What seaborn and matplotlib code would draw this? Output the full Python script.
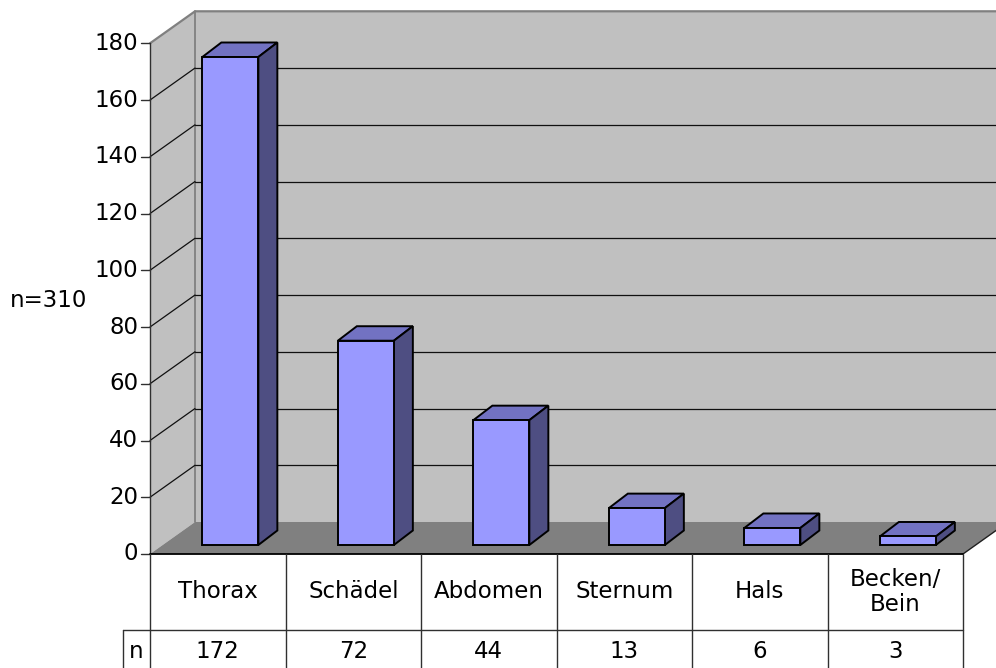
import matplotlib
matplotlib.use("Agg")
import matplotlib.pyplot as plt
from matplotlib.patches import Polygon
from matplotlib.transforms import Affine2D
import seaborn as sns

# Injury localisation counts
categories = ["Thorax", "Schädel", "Abdomen", "Sternum", "Hals", "Becken/\nBein"]
counts = [172, 72, 44, 13, 6, 3]
y_ticks = [0, 20, 40, 60, 80, 100, 120, 140, 160, 180]
y_label = "n=310"
row_label = "n"

sns.set_theme(style="white")
plt.rcParams["font.family"] = ["DejaVu Sans"]
FS = 16.5

W, H = 996, 668
fig = plt.figure(figsize=(W / 100, H / 100), dpi=100)
ax = fig.add_axes([0, 0, 1, 1])

# pixel geometry of the plotting box
PX0, PX1 = 150, 963          # front left / right edge
PY0, PY180 = 554, 43.3       # value 0 / 180 on the front plane
cat_px = (PX1 - PX0) / len(categories)
val_px = (PY0 - PY180) / 180.0


def X(px):
    return -0.5 + (px - PX0) / cat_px


def V(py):
    return (PY0 - py) / val_px


# 3-D depth of the walls and bars (pixels -> data units)
Dx, Dy = 45 / cat_px, 32 / val_px
bar_sx, bar_sy = 12.6 / cat_px, 9 / val_px      # front face offset
bar_dx, bar_dy = 19 / cat_px, 14.5 / val_px     # bar depth

FRONT = "#9999FF"
TOP = "#7272C2"
SIDE = "#4E4E82"
WALL = "#C0C0C0"
FLOOR = "#808080"
EDGE = "#808080"

sns.barplot(x=categories, y=counts, ax=ax, width=56 / cat_px, color=FRONT,
            saturation=1, edgecolor="black", linewidth=1.4, zorder=5)
bars = list(ax.patches)

xl, xr = -0.5, len(categories) - 0.5
top = y_ticks[-1]

# walls and floor
ax.add_patch(Polygon([(xl + Dx, Dy), (xr + Dx + 1, Dy), (xr + Dx + 1, top + Dy),
                      (xl + Dx, top + Dy)], closed=True, facecolor=WALL,
                     edgecolor="none", zorder=1))
ax.add_patch(Polygon([(xl, 0), (xl, top), (xl + Dx, top + Dy), (xl + Dx, Dy)],
                     closed=True, facecolor=WALL, edgecolor="none", zorder=1))
ax.add_patch(Polygon([(xl, 0), (xr, 0), (xr + Dx, Dy), (xl + Dx, Dy)], closed=True,
                     facecolor=FLOOR, edgecolor="none", zorder=1))
# wall outline
ax.plot([xl, xl + Dx, xr + Dx + 1], [top, top + Dy, top + Dy], color=EDGE, lw=1.6, zorder=2)
ax.plot([xl + Dx, xl + Dx], [Dy, top + Dy], color=EDGE, lw=1.3, zorder=2)
ax.plot([xr, xr + Dx], [0, Dy], color="#202020", lw=1.0, zorder=2)

# gridlines on the side and back wall, axis ticks and labels
for t in y_ticks:
    if 0 < t < top:
        ax.plot([xl, xl + Dx], [t, t + Dy], color="#101010", lw=0.9, zorder=2)
        ax.plot([xl + Dx, xr + Dx + 1], [t + Dy, t + Dy], color="#101010", lw=0.9, zorder=2)
    ax.plot([X(141), xl], [t, t], color="#303030", lw=1.0, zorder=3)
    ax.text(X(138), t, str(t), ha="right", va="center", fontsize=FS, color="black")
ax.plot([xl, xl], [0, top], color="#303030", lw=1.0, zorder=3)

# extrude the seaborn bars into boxes
for b in bars:
    x0, w, h = b.get_x(), b.get_width(), b.get_height()
    b.set_transform(Affine2D().translate(bar_sx, bar_sy) + ax.transData)
    fx0, fx1, fy0, fy1 = x0 + bar_sx, x0 + w + bar_sx, bar_sy, h + bar_sy
    ax.add_patch(Polygon([(fx0, fy1), (fx1, fy1), (fx1 + bar_dx, fy1 + bar_dy),
                          (fx0 + bar_dx, fy1 + bar_dy)], closed=True, facecolor=TOP,
                         edgecolor="black", linewidth=1.4, zorder=4))
    ax.add_patch(Polygon([(fx1, fy0), (fx1, fy1), (fx1 + bar_dx, fy1 + bar_dy),
                          (fx1 + bar_dx, fy0 + bar_dy)], closed=True, facecolor=SIDE,
                         edgecolor="black", linewidth=1.4, zorder=4))

# data table under the chart
tcol = "#303030"
ax.plot([xl, xr], [0, 0], color="black", lw=1.3, zorder=3)
for k in range(len(categories) + 1):
    ax.plot([xl + k, xl + k], [0, V(H + 2)], color=tcol, lw=1.0, zorder=3)
ax.plot([X(123), xr], [V(630), V(630)], color=tcol, lw=1.0, zorder=3)
ax.plot([X(123), X(123)], [V(630), V(H + 2)], color=tcol, lw=1.0, zorder=3)
for i, (c, n) in enumerate(zip(categories, counts)):
    ax.text(i, V(592), c, ha="center", va="center", fontsize=FS,
            linespacing=1.12, color="black")
    ax.text(i, V(652), str(n), ha="center", va="center", fontsize=FS, color="black")
ax.text(X(136), V(652), row_label, ha="center", va="center", fontsize=FS, color="black")

ax.text(X(49), V(300), y_label, ha="center", va="center", fontsize=FS, color="black")

ax.set_xlim(X(0), X(W))
ax.set_ylim(V(H), V(0))
ax.axis("off")

fig.savefig("out.png", dpi=100)
